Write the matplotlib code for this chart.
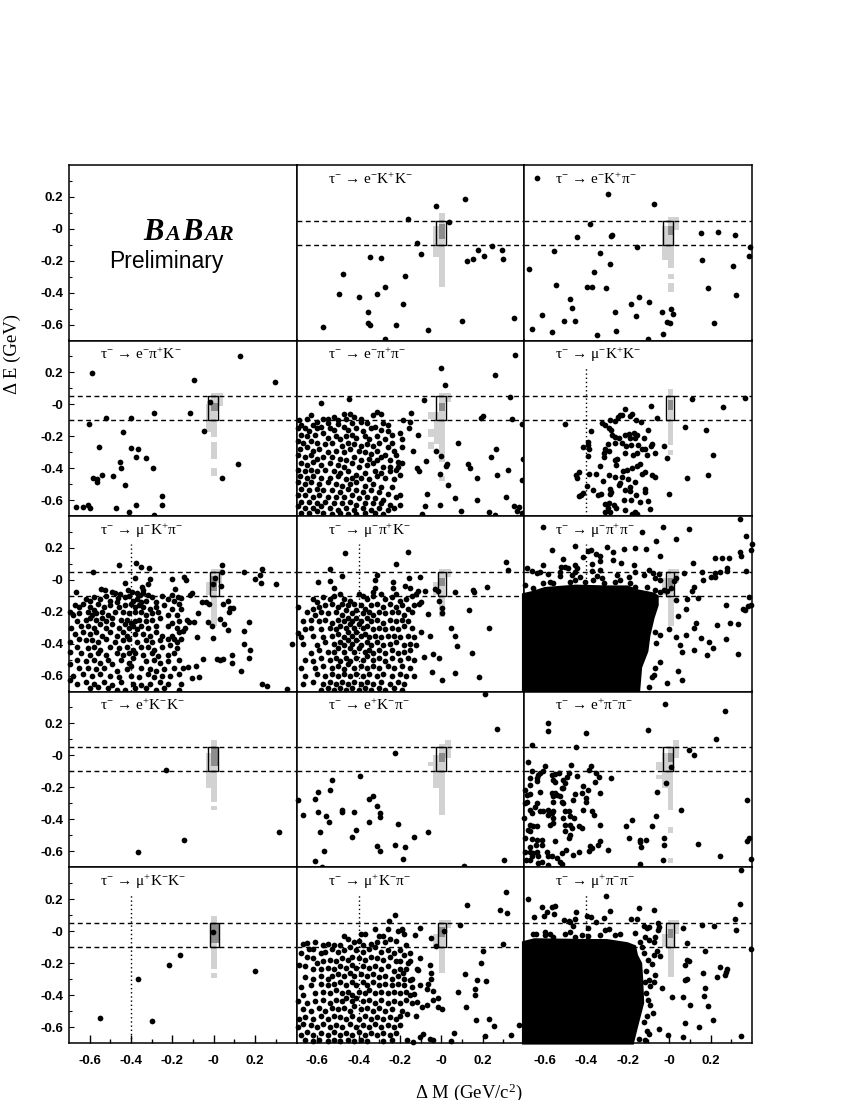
import matplotlib
matplotlib.use("Agg")
import matplotlib.pyplot as plt

plt.rcParams['mathtext.fontset'] = 'custom'
plt.rcParams['mathtext.rm'] = 'Liberation Serif'
plt.rcParams['mathtext.it'] = 'Liberation Serif:italic'
plt.rcParams['mathtext.bf'] = 'Liberation Serif:bold'

# Every point below is a (delta M, delta E) value.
# Inside the two saturated panels single points cannot be told apart, so the black
# mass is a filled outline (mupipi_blob, mupluspipi_blob).
eKK = [(.115,.19),(-.024,.143),(-.16,.06),(.037,.04),(-.116,-.09),(-.10,-.16),(-.347,-.177),(-.292,-.185),(.247,-.105),(.176,-.133),(.294,-.131),(.208,-.172),(.30,-.19),(.152,-.187),(.126,-.204),(-.473,-.285),(-.176,-.294),(-.273,-.367),(-.494,-.406),(-.313,-.408),(-.40,-.43),(-.184,-.469),(-.353,-.519),(-.353,-.59),(-.347,-.603),(-.571,-.615),(-.218,-.60),(.098,-.58),(.35,-.559),(-.065,-.636),(-.274,-.693)]
eKpi = [(-.635,.318),(-.297,.218),(-.074,.158),(-.382,.03),(.156,-.024),(.237,-.018),(.318,-.041),(-.445,-.051),(-.276,-.041),(-.279,-.047),(-.156,-.112),(-.553,-.137),(-.335,-.152),(.39,-.116),(.384,-.172),(.16,-.193),(.308,-.235),(-.284,-.223),(-.677,-.252),(-.36,-.273),(-.547,-.352),(-.398,-.363),(-.371,-.367),(-.302,-.371),(.189,-.373),(-.477,-.442),(.321,-.415),(-.144,-.43),(-.097,-.459),(-.182,-.473),(-.469,-.494),(-.615,-.54),(-.26,-.524),(-.035,-.524),(.008,-.50),(.019,-.532),(-.161,-.549),(-.506,-.58),(-.455,-.58),(-.01,-.586),(.002,-.59),(.215,-.59),(-.66,-.626),(-.565,-.647),(-.255,-.638),(-.348,-.668),(-.029,-.657),(-.103,-.689)]
epiK = [(.129,.304),(-.589,.195),(-.095,.153),(.294,.143),(-.016,.016),(-.113,-.053),(-.287,-.056),(-.521,-.085),(-.398,-.085),(-.605,-.122),(-.048,-.166),(-.44,-.173),(-.555,-.269),(-.402,-.273),(-.366,-.283),(-.376,-.329),(-.327,-.335),(-.453,-.363),(-.45,-.40),(-.294,-.40),(.116,-.377),(-.539,-.444),(-.582,-.463),(-.563,-.467),(-.566,-.488),(-.489,-.45),(.039,-.461),(-.429,-.503),(-.25,-.572),(-.248,-.632),(-.665,-.643),(-.631,-.643),(-.608,-.634),(-.598,-.651),(-.474,-.647),(-.377,-.634),(-.411,-.672),(-.287,-.691)]
epipi = [(-.002,.229),(.356,.306),(.26,.181),(.016,.124),(.332,.045),(-.082,.024),(-.447,.034),(-.582,.007),(-.147,-.053),(-.31,-.047),(.2,-.076),(.194,-.085),(.344,-.089),(.392,-.122),(-.184,-.10),(-.15,-.11),(-.158,-.147),(-.113,-.195),(.082,-.24),(-.024,-.29),(.265,-.281),(-.003,-.325),(.239,-.333),(.395,-.342),(-.137,-.294),(-.076,-.356),(.027,-.377),(.023,-.388),(.129,-.371),(.137,-.40),(-.119,-.40),(-.11,-.417),(.324,-.409),(-.008,-.436),(.268,-.444),(.171,-.459),(.392,-.475),(.032,-.505),(-.068,-.563),(.065,-.586),(.174,-.60),(.311,-.582),(-.008,-.628),(-.079,-.64),(.095,-.67),(-.092,-.687),(.229,-.678),(.26,-.695),(.35,-.64),(.377,-.645),(.368,-.668),(.389,-.68),
(-.69,-.1),(-.68,-.13),(-.65,-.09),(-.63,-.07),(-.6,-.11),(-.57,-.09),(-.55,-.09),(-.52,-.08),(-.5,-.1),(-.47,-.06),(-.44,-.06),(-.42,-.08),(-.39,-.09),(-.39,-.11),(-.36,-.12),(-.33,-.07),(-.29,-.06),(-.28,-.12),(-.26,-.13),(-.46,-.09),(-.43,-.12),(-.5,-.125),(-.55,-.12),(-.62,-.13),(-.695,-.15),(-.66,-.15),(-.64,-.17),(-.6,-.15),(-.58,-.14),(-.54,-.15),(-.52,-.16),(-.47,-.14),(-.45,-.16),(-.41,-.15),(-.38,-.17),(-.34,-.15),(-.32,-.14),(-.29,-.16),(-.26,-.17),(-.24,-.19),(-.2,-.18),(-.19,-.22),(-.68,-.19),(-.65,-.2),(-.61,-.19),(-.57,-.18),(-.55,-.21),(-.51,-.2),(-.49,-.22),(-.46,-.2),(-.43,-.19),(-.41,-.21),(-.37,-.2),(-.35,-.22),(-.31,-.2),(-.27,-.22),(-.24,-.24),(-.695,-.23),(-.67,-.24),(-.63,-.23),(-.6,-.24),(-.56,-.25),(-.53,-.24),(-.48,-.26),(-.45,-.24),(-.42,-.25),(-.39,-.26),(-.36,-.25),(-.33,-.26),(-.3,-.24),(-.26,-.27),(-.23,-.29),(-.19,-.27),(-.685,-.28),(-.65,-.27),(-.62,-.29),(-.59,-.28),(-.55,-.3),(-.51,-.29),(-.47,-.3),(-.44,-.28),(-.4,-.29),(-.37,-.3),(-.34,-.31),(-.31,-.29),(-.27,-.32),(-.22,-.32),(-.695,-.32),(-.66,-.33),(-.63,-.32),(-.6,-.34),(-.57,-.33),(-.53,-.33),(-.49,-.34),(-.46,-.35),(-.42,-.33),(-.39,-.35),(-.35,-.34),(-.31,-.35),(-.29,-.33),(-.25,-.35),(-.21,-.36),(-.68,-.37),(-.65,-.38),(-.62,-.36),(-.58,-.38),(-.54,-.37),(-.5,-.38),(-.47,-.39),(-.43,-.37),(-.4,-.39),(-.36,-.38),(-.33,-.37),(-.28,-.39),(-.25,-.39),(-.21,-.39),(-.19,-.37),(-.695,-.41),(-.66,-.42),(-.63,-.41),(-.6,-.42),(-.56,-.41),(-.52,-.42),(-.49,-.43),(-.45,-.42),(-.41,-.44),(-.37,-.43),(-.32,-.42),(-.29,-.43),(-.25,-.42),(-.22,-.41),(-.2,-.44),(-.685,-.45),(-.65,-.46),(-.62,-.45),(-.58,-.46),(-.54,-.46),(-.5,-.45),(-.46,-.47),(-.43,-.46),(-.39,-.46),(-.35,-.47),(-.31,-.45),(-.27,-.46),(-.23,-.47),(-.695,-.49),(-.66,-.5),(-.63,-.49),(-.59,-.5),(-.55,-.49),(-.51,-.5),(-.48,-.51),(-.44,-.5),(-.41,-.49),(-.37,-.51),(-.33,-.5),(-.29,-.52),(-.24,-.52),(-.68,-.53),(-.64,-.54),(-.6,-.53),(-.57,-.54),(-.53,-.54),(-.49,-.55),(-.45,-.53),(-.41,-.54),(-.38,-.55),(-.34,-.54),(-.3,-.55),(-.26,-.56),(-.2,-.57),(-.22,-.58),(-.695,-.57),(-.66,-.57),(-.62,-.58),(-.59,-.57),(-.55,-.58),(-.51,-.58),(-.47,-.58),(-.43,-.57),(-.4,-.59),(-.36,-.58),(-.32,-.59),(-.28,-.6),(-.68,-.61),(-.64,-.61),(-.6,-.62),(-.56,-.61),(-.52,-.62),(-.48,-.62),(-.44,-.61),(-.41,-.63),(-.37,-.62),(-.33,-.62),(-.29,-.62),(-.25,-.63),(-.2,-.63),(-.695,-.64),(-.66,-.65),(-.62,-.65),(-.58,-.64),(-.54,-.65),(-.5,-.66),(-.46,-.65),(-.42,-.66),(-.38,-.65),(-.34,-.66),(-.3,-.65),(-.26,-.66),(-.23,-.65),(-.68,-.68),(-.64,-.68),(-.6,-.67),(-.57,-.68),(-.53,-.69),(-.49,-.68),(-.45,-.69),(-.41,-.69),(-.37,-.68),(-.32,-.68),(-.28,-.69)]
muKK = [(-.085,-.012),(-.213,-.03),(-.179,-.062),(-.187,-.074),(-.239,-.068),(-.227,-.068),(-.248,-.078),(-.058,-.085),(-.16,-.10),(-.135,-.112),(-.284,-.10),(-.26,-.106),(-.324,-.12),(-.308,-.131),(-.292,-.147),(-.28,-.158),(-.5,-.122),(.077,-.145),(.179,-.162),(-.1,-.16),(-.377,-.17),(-.276,-.193),(-.26,-.204),(-.24,-.208),(-.211,-.193),(-.195,-.183),(-.171,-.179),(-.155,-.193),(-.187,-.21),(-.163,-.214),(-.12,-.208),(-.389,-.235),(-.392,-.256),(-.384,-.283),(-.413,-.27),(-.297,-.25),(-.308,-.283),(-.316,-.304),(-.292,-.294),(-.313,-.33),(-.26,-.242),(-.227,-.242),(-.206,-.262),(-.184,-.256),(-.152,-.256),(-.131,-.283),(-.115,-.283),(-.082,-.246),(-.085,-.262),(-.026,-.262),(-.066,-.308),(-.214,-.308),(-.174,-.315),(-.155,-.308),(-.106,-.315),(-.252,-.34),(-.26,-.35),(-.392,-.325),(-.011,-.338),(.211,-.315),(-.256,-.381),(-.332,-.388),(-.139,-.375),(-.155,-.388),(-.179,-.398),(-.203,-.413),(-.224,-.42),(-.115,-.423),(-.131,-.434),(-.082,-.44),(-.069,-.455),(-.435,-.425),(-.45,-.444),(-.445,-.459),(-.385,-.438),(-.353,-.438),(-.292,-.444),(-.263,-.455),(-.227,-.455),(-.2,-.471),(-.163,-.486),(-.235,-.492),(-.243,-.507),(-.321,-.48),(.189,-.44),(.085,-.461),(-.395,-.513),(-.368,-.534),(-.413,-.553),(-.424,-.57),(-.434,-.576),(-.329,-.559),(-.344,-.57),(-.284,-.528),(-.279,-.549),(-.284,-.565),(-.214,-.534),(-.19,-.517),(-.187,-.545),(-.158,-.57),(-.115,-.528),(-.115,-.549),(0,-.559),(-.219,-.6),(-.184,-.597),(-.142,-.611),(-.103,-.605),(-.308,-.622),(-.292,-.618),(-.268,-.632),(-.255,-.647),(-.297,-.647),(-.308,-.674),(-.284,-.674),(-.214,-.664),(-.163,-.674),(-.09,-.659),(-.179,-.685),(-.155,-.689),(.111,.036),(.366,.04),(.258,-.018)]
muKpi = [(-.456,.091),(-.377,.103),(-.352,.082),(-.311,.076),(-.584,.051),(-.382,.009),(-.2,.005),(-.142,.018),(-.134,-.001),(-.429,-.022),(-.308,.005),(-.316,-.028),(-.348,-.043),(-.34,-.064),(-.187,-.06),(-.103,-.081),(.04,.093),(.042,.047),(.006,.012),(-.002,-.028),(.034,-.037),(.148,.051),(.234,.068),(.224,.03),(.2,.003),(.226,-.022),(.303,-.028),(-.668,-.074),(-.547,-.058),(-.526,-.064),(-.494,-.074),(-.477,-.085),(-.453,-.091),(-.461,-.112),(-.413,-.064),(-.397,-.079),(-.373,-.085),(-.356,-.095),(-.34,-.085),(-.316,-.095),(-.203,-.095),(-.171,-.106),(-.16,-.116),(-.115,-.095),(-.058,-.137),(-.039,-.141),(-.023,-.154),(.068,-.133),(.047,-.154),(.079,-.179),(.095,-.179),(.076,-.204),(-.074,-.21),(-.131,-.25),(-.098,-.262),(-.118,-.266),(-.139,-.304),(-.029,-.266),(-.01,-.289),(.032,-.245),(.05,-.277),(.069,-.312),(.168,-.262),(.144,-.321),(-.081,-.356),(-.002,-.367),(.148,-.402),(.176,-.438),(.376,-.402),(.09,-.469),(.087,-.524),(-.05,-.498),(-.123,-.549),(-.087,-.538),(.014,-.498),(.031,-.5),(.047,-.498),(.168,-.492),(.131,-.574),(-.105,-.613),(-.071,-.611),(.232,-.656),(.255,-.665),(.355,-.682),
(-.62,-.12),(-.6,-.13),(-.58,-.11),(-.55,-.12),(-.52,-.1),(-.5,-.13),(-.47,-.14),(-.43,-.11),(-.41,-.1),(-.39,-.13),(-.37,-.12),(-.35,-.14),(-.33,-.13),(-.3,-.11),(-.28,-.14),(-.25,-.1),(-.22,-.12),(-.19,-.13),(-.17,-.15),(-.695,-.2),(-.67,-.16),(-.65,-.17),(-.63,-.15),(-.6,-.17),(-.58,-.19),(-.56,-.15),(-.53,-.17),(-.5,-.16),(-.46,-.17),(-.43,-.16),(-.4,-.15),(-.38,-.17),(-.36,-.16),(-.34,-.17),(-.31,-.18),(-.28,-.17),(-.24,-.16),(-.2,-.18),(-.16,-.18),(-.68,-.22),(-.65,-.21),(-.61,-.2),(-.59,-.22),(-.57,-.21),(-.54,-.2),(-.51,-.22),(-.48,-.2),(-.44,-.2),(-.41,-.21),(-.38,-.2),(-.35,-.2),(-.33,-.22),(-.3,-.21),(-.27,-.2),(-.22,-.22),(-.18,-.22),(-.66,-.26),(-.62,-.25),(-.6,-.24),(-.57,-.25),(-.54,-.24),(-.52,-.26),(-.49,-.24),(-.45,-.25),(-.42,-.25),(-.4,-.27),(-.38,-.26),(-.36,-.25),(-.33,-.26),(-.3,-.25),(-.26,-.24),(-.2,-.27),(-.17,-.26),(-.69,-.3),(-.64,-.29),(-.61,-.29),(-.58,-.3),(-.55,-.28),(-.52,-.3),(-.49,-.28),(-.46,-.3),(-.43,-.28),(-.41,-.3),(-.39,-.29),(-.37,-.31),(-.35,-.29),(-.32,-.3),(-.28,-.29),(-.22,-.29),(-.18,-.3),(-.15,-.32),(-.67,-.34),(-.63,-.33),(-.6,-.34),(-.57,-.33),(-.54,-.35),(-.5,-.33),(-.47,-.35),(-.44,-.33),(-.42,-.35),(-.38,-.34),(-.34,-.34),(-.31,-.35),(-.28,-.33),(-.25,-.35),(-.2,-.35),(-.17,-.33),(-.19,-.37),(-.695,-.39),(-.65,-.37),(-.62,-.38),(-.59,-.38),(-.56,-.39),(-.52,-.37),(-.48,-.39),(-.44,-.38),(-.41,-.37),(-.37,-.39),(-.33,-.38),(-.3,-.39),(-.26,-.38),(-.22,-.37),(-.18,-.39),(-.16,-.37),(-.66,-.42),(-.61,-.43),(-.58,-.42),(-.55,-.44),(-.5,-.42),(-.46,-.43),(-.42,-.42),(-.39,-.44),(-.35,-.42),(-.32,-.42),(-.29,-.44),(-.25,-.42),(-.21,-.41),(-.18,-.43),(-.695,-.45),(-.64,-.46),(-.6,-.47),(-.56,-.46),(-.52,-.47),(-.47,-.46),(-.44,-.47),(-.41,-.46),(-.38,-.46),(-.34,-.47),(-.3,-.46),(-.27,-.48),(-.22,-.47),(-.19,-.46),(-.66,-.5),(-.62,-.51),(-.58,-.5),(-.55,-.52),(-.51,-.5),(-.49,-.53),(-.45,-.5),(-.41,-.52),(-.39,-.49),(-.33,-.51),(-.29,-.5),(-.26,-.52),(-.22,-.51),(-.17,-.5),(-.695,-.53),(-.65,-.55),(-.61,-.55),(-.57,-.56),(-.53,-.55),(-.47,-.57),(-.42,-.56),(-.4,-.54),(-.35,-.55),(-.31,-.56),(-.28,-.57),(-.24,-.56),(-.19,-.55),(-.15,-.55),(-.68,-.6),(-.63,-.59),(-.59,-.6),(-.55,-.59),(-.5,-.6),(-.46,-.61),(-.4,-.6),(-.36,-.61),(-.32,-.59),(-.29,-.61),(-.25,-.6),(-.21,-.6),(-.17,-.59),(-.695,-.63),(-.66,-.65),(-.62,-.64),(-.58,-.65),(-.53,-.64),(-.49,-.66),(-.45,-.64),(-.39,-.65),(-.35,-.66),(-.31,-.65),(-.26,-.64),(-.22,-.65),(-.16,-.65),(-.6,-.68),(-.56,-.67),(-.51,-.68),(-.47,-.69),(-.43,-.69),(-.38,-.68),(-.33,-.68),(-.28,-.69),(-.24,-.68),(-.17,-.69)]
mupiK = [(-.466,.17),(-.161,.176),(-.221,.099),(.311,.11),(.321,.062),(-.54,.068),(-.482,.026),(-.595,-.012),(-.539,-.007),(-.519,-.049),(-.313,.03),(-.321,-.001),(-.321,-.049),(-.329,-.074),(-.232,-.012),(-.232,-.049),(-.156,.013),(-.176,-.037),(-.152,-.053),(-.103,.016),(-.111,-.07),(-.079,-.07),(-.031,-.058),(-.015,-.07),(.068,-.076),(.155,-.064),(.16,-.074),(.219,-.045),(-.01,-.133),(.002,-.175),(.002,-.206),(-.063,-.214),(.135,-.191),(.048,-.304),(.065,-.354),(.077,-.413),(.231,-.304),(.15,-.461),(-.039,-.467),(-.013,-.492),(-.055,-.35),(-.098,-.325),(-.084,-.482),(-.044,-.58),(.002,-.63),(.066,-.586),(.182,-.609),(-.692,-.168),(-.695,-.335),
(-.62,-.12),(-.6,-.14),(-.57,-.11),(-.54,-.12),(-.52,-.1),(-.49,-.09),(-.47,-.12),(-.44,-.13),(-.4,-.09),(-.38,-.1),(-.36,-.12),(-.33,-.1),(-.29,-.09),(-.27,-.12),(-.24,-.11),(-.22,-.09),(-.2,-.13),(-.17,-.12),(-.14,-.1),(-.12,-.09),(-.62,-.18),(-.59,-.17),(-.56,-.16),(-.53,-.15),(-.5,-.17),(-.48,-.15),(-.45,-.16),(-.42,-.15),(-.39,-.16),(-.37,-.18),(-.34,-.16),(-.31,-.15),(-.28,-.17),(-.25,-.15),(-.22,-.17),(-.19,-.16),(-.16,-.18),(-.13,-.16),(-.11,-.15),(-.1,-.14),(-.65,-.2),(-.61,-.22),(-.58,-.2),(-.55,-.21),(-.51,-.2),(-.48,-.22),(-.46,-.19),(-.43,-.21),(-.41,-.19),(-.38,-.21),(-.35,-.2),(-.33,-.22),(-.3,-.2),(-.27,-.21),(-.24,-.2),(-.21,-.2),(-.18,-.22),(-.14,-.2),(-.67,-.26),(-.63,-.25),(-.59,-.26),(-.56,-.25),(-.53,-.27),(-.5,-.25),(-.47,-.26),(-.45,-.24),(-.43,-.26),(-.41,-.24),(-.39,-.26),(-.36,-.24),(-.34,-.26),(-.31,-.25),(-.28,-.27),(-.25,-.25),(-.22,-.26),(-.19,-.25),(-.16,-.26),(-.66,-.31),(-.63,-.3),(-.58,-.31),(-.54,-.3),(-.51,-.31),(-.49,-.29),(-.46,-.3),(-.44,-.28),(-.42,-.3),(-.4,-.28),(-.38,-.3),(-.36,-.29),(-.33,-.31),(-.3,-.3),(-.27,-.31),(-.24,-.3),(-.21,-.31),(-.18,-.29),(-.14,-.3),(-.68,-.36),(-.62,-.35),(-.57,-.36),(-.53,-.35),(-.5,-.34),(-.47,-.36),(-.45,-.33),(-.43,-.35),(-.41,-.33),(-.39,-.35),(-.37,-.34),(-.35,-.36),(-.32,-.35),(-.29,-.36),(-.26,-.35),(-.23,-.35),(-.2,-.36),(-.16,-.35),(-.13,-.36),(-.67,-.4),(-.6,-.41),(-.56,-.39),(-.52,-.4),(-.49,-.39),(-.47,-.41),(-.45,-.38),(-.43,-.4),(-.41,-.38),(-.39,-.41),(-.36,-.39),(-.34,-.41),(-.31,-.39),(-.28,-.41),(-.25,-.4),(-.22,-.39),(-.18,-.41),(-.15,-.4),(-.12,-.41),(-.63,-.46),(-.59,-.44),(-.55,-.45),(-.52,-.45),(-.5,-.43),(-.47,-.45),(-.44,-.43),(-.42,-.45),(-.4,-.43),(-.37,-.45),(-.35,-.44),(-.33,-.46),(-.3,-.44),(-.27,-.46),(-.24,-.44),(-.21,-.46),(-.18,-.45),(-.15,-.44),(-.66,-.5),(-.62,-.51),(-.58,-.49),(-.54,-.5),(-.51,-.49),(-.49,-.51),(-.46,-.49),(-.44,-.51),(-.41,-.49),(-.38,-.5),(-.36,-.48),(-.33,-.5),(-.3,-.49),(-.27,-.51),(-.24,-.49),(-.2,-.5),(-.16,-.49),(-.13,-.5),(-.68,-.55),(-.61,-.55),(-.57,-.54),(-.53,-.55),(-.5,-.54),(-.47,-.56),(-.45,-.53),(-.42,-.55),(-.39,-.54),(-.36,-.55),(-.33,-.54),(-.3,-.55),(-.26,-.54),(-.23,-.55),(-.19,-.54),(-.15,-.55),(-.66,-.6),(-.6,-.59),(-.56,-.6),(-.53,-.59),(-.5,-.6),(-.47,-.59),(-.44,-.6),(-.41,-.59),(-.38,-.6),(-.35,-.59),(-.31,-.6),(-.28,-.59),(-.24,-.6),(-.2,-.59),(-.17,-.6),(-.13,-.6),(-.67,-.65),(-.62,-.64),(-.57,-.65),(-.54,-.64),(-.51,-.65),(-.48,-.64),(-.45,-.65),(-.42,-.64),(-.39,-.65),(-.36,-.64),(-.33,-.65),(-.29,-.64),(-.25,-.65),(-.21,-.64),(-.18,-.65),(-.58,-.69),(-.55,-.68),(-.52,-.69),(-.49,-.68),(-.46,-.69),(-.43,-.68),(-.4,-.69),(-.37,-.68),(-.34,-.69),(-.3,-.68),(-.27,-.69),(-.23,-.68),(-.19,-.69)]
mupipi = [(-.61,.329),(-.029,.331),(.097,.318),(.342,.379),(.369,.277),(.399,.222),(.394,.187),(-.129,.3),(.032,.258),(-.065,.241),(-.563,.187),(-.453,.212),(-.389,.183),(-.377,.189),(-.3,.208),(-.273,.176),(-.218,.191),(-.163,.199),(-.111,.195),(-.416,.145),(-.352,.16),(-.332,.151),(-.511,.128),(-.332,.118),(-.271,.126),(-.231,.107),(-.043,.149),(-.171,.095),(.342,.172),(.348,.151),(.223,.139),(.256,.139),(.289,.135),(.113,.103),(-.61,.091),(-.523,.082),(-.502,.078),(-.486,.076),(-.453,.093),(-.445,.072),(-.373,.097),(-.687,.076),(-.663,.055),(-.639,.041),(-.623,.047),(-.526,.047),(-.526,.026),(-.582,.034),(-.469,.03),(-.453,.047),(-.429,.02),(-.373,.055),(-.332,.061),(-.348,.026),(-.324,.009),(-.252,.03),(-.192,.016),(-.163,.051),(-.098,.061),(-.123,.03),(-.079,.041),(-.05,.034),(-.066,.009),(-.042,-.001),(.074,.041),(.161,.051),(.165,-.001),(.2,.02),(.223,.041),(.223,.016),(.248,.051),(.281,.076),(.277,.055),(.369,.055),(.023,-.007),(.034,.009),(.011,-.049),(-.01,-.07),(.119,-.043),(.111,-.07),(.034,-.127),(.087,-.122),(.139,-.116),(.384,-.105),(.082,-.185),(.044,-.227),(.276,-.158),(.394,-.158),(.38,-.162),(.358,-.185),(.365,-.189),(.131,-.269),(.119,-.304),(.231,-.285),(.294,-.273),(.331,-.277),(0,-.308),(.035,-.356),(.082,-.344),(.155,-.363),(.192,-.392),(.213,-.43),(.118,-.44),(.181,-.469),(.055,-.409),(.061,-.452),(.276,-.371),(.331,-.463),(.042,-.572),(.061,-.626),(-.01,-.649),(-.098,-.674),(-.066,-.325),(-.045,-.346),(-.061,-.398),(-.045,-.513),(-.066,-.555),(-.074,-.597),(-.082,-.607),(-.695,-.033),(-.655,-.05),(-.606,-.022),(-.574,-.012),(-.558,-.022),(-.477,-.012),(-.453,-.001),(-.405,-.012),(-.365,-.001),(-.316,-.022),(-.26,-.012),(-.235,-.001),(-.187,-.022),(-.163,-.043),(-.106,-.043),(-.066,-.064),(-.042,-.074),(-.026,-.064)]
mupipi_blob = [(-.71,-.71),(-.71,-.085),(-.66,-.07),(-.6,-.045),(-.45,-.03),(-.3,-.035),(-.2,-.035),(-.15,-.06),(-.07,-.08),(-.05,-.1),(-.05,-.16),(-.07,-.24),(-.09,-.35),(-.1,-.45),(-.13,-.55),(-.14,-.705),(-.14,-.71)]
eplusKK = [(-.232,-.091),(-.142,-.53),(-.365,-.605),(.313,-.48)]
eplusKpi = [(.211,.385),(.269,.166),(-.223,.016),(-.394,-.129),(-.529,-.156),(-.537,-.216),(-.598,-.227),(-.692,-.277),(-.611,-.271),(-.348,-.271),(-.332,-.254),(-.311,-.319),(-.668,-.371),(-.594,-.358),(-.479,-.342),(-.479,-.356),(-.423,-.356),(-.558,-.381),(-.298,-.36),(-.298,-.386),(-.544,-.421),(-.35,-.421),(-.208,-.43),(-.587,-.48),(-.411,-.471),(-.065,-.478),(-.434,-.509),(-.132,-.511),(-.31,-.567),(-.224,-.565),(-.176,-.576),(-.569,-.597),(-.297,-.597),(-.184,-.649),(-.611,-.664),(-.579,-.697),(.111,-.695),(.303,-.657)]
eplusKpi_extra = [(-.176,-.583)]
epluspipi = [(-.019,.319),(.269,.277),(-.585,.202),(-.582,.151),(-.4,.141),(-.1,.158),(.224,.101),(-.661,.062),(-.448,.055),(.097,.034),(.118,.005),(-.679,-.043),(-.598,-.066),(-.471,-.058),(-.377,-.066),(-.385,-.091),(.01,-.074),(-.282,-.141),(-.013,-.175),(-.06,-.231),(-.331,-.237),(.377,-.279),(.056,-.342),(-.065,-.381),(-.179,-.404),(-.082,-.44),(-.21,-.446),(-.334,-.438),(-.192,-.521),(-.139,-.53),(-.139,-.542),(-.111,-.532),(-.137,-.574),(-.023,-.521),(-.023,-.565),(.14,-.557),(.377,-.536),(.387,-.521),(.245,-.632),(.396,-.649),(-.029,-.657),(-.139,-.68),(-.295,-.592),(-.332,-.54),(-.344,-.565),(-.381,-.571),(-.384,-.597),(-.373,-.582),(-.437,-.603),(-.466,-.624),
(-.663,-.097),(-.631,-.122),(-.623,-.108),(-.61,-.097),(-.566,-.122),(-.55,-.116),(-.529,-.112),(-.485,-.112),(-.494,-.137),(-.445,-.127),(-.352,-.112),(-.34,-.137),(-.671,-.143),(-.639,-.143),(-.671,-.185),(-.639,-.164),(-.55,-.17),(-.558,-.154),(-.51,-.154),(-.502,-.175),(-.51,-.206),(-.518,-.206),(-.356,-.17),(-.413,-.195),(-.389,-.216),(-.421,-.237),(-.453,-.244),(-.623,-.227),(-.695,-.216),(-.687,-.248),(-.671,-.241),(-.566,-.237),(-.55,-.237),(-.526,-.258),(-.558,-.258),(-.542,-.248),(-.687,-.29),(-.695,-.3),(-.4,-.269),(-.4,-.29),(-.466,-.279),(-.518,-.29),(-.51,-.3),(-.558,-.29),(-.639,-.3),(-.647,-.321),(-.671,-.342),(-.663,-.363),(-.623,-.352),(-.606,-.352),(-.582,-.342),(-.558,-.346),(-.582,-.373),(-.566,-.363),(-.558,-.394),(-.502,-.346),(-.485,-.352),(-.477,-.383),(-.51,-.394),(-.373,-.346),(-.361,-.373),(-.413,-.342),(-.461,-.394),(-.698,-.394),(-.558,-.425),(-.574,-.436),(-.502,-.436),(-.477,-.436),(-.469,-.457),(-.671,-.436),(-.679,-.467),(-.655,-.446),(-.635,-.442),(-.671,-.477),(-.502,-.477),(-.477,-.498),(-.485,-.519),(-.437,-.446),(-.421,-.457),(-.695,-.519),(-.663,-.526),(-.615,-.53),(-.639,-.53),(-.642,-.565),(-.611,-.561),(-.55,-.54),(-.671,-.572),(-.695,-.609),(-.671,-.609),(-.655,-.613),(-.639,-.607),(-.631,-.628),(-.59,-.609),(-.582,-.63),(-.566,-.634),(-.542,-.645),(-.518,-.613),(-.497,-.592),(-.671,-.655),(-.692,-.655),(-.631,-.676),(-.615,-.666),(-.582,-.686),(-.526,-.666),(-.518,-.68),(-.663,-.634)]
muplusKK = [(-.55,-.545),(-.365,-.3),(-.3,-.56),(-.215,-.21),(-.165,-.15),(-.003,-.007),(.2,-.25)]
muplusKpi = [(.315,.241),(.126,.164),(.284,.133),(.316,.112),(-.224,.099),(-.252,.062),(.09,.036),(.013,-.003),(-.052,-.045),(-.024,-.091),(-.129,-.022),(-.102,.016),(.298,-.083),(.2,-.127),(.19,-.2),(.113,-.267),(.173,-.308),(.218,-.312),(.165,-.363),(.165,-.398),(.082,-.379),(.121,-.473),(.169,-.557),(.231,-.547),(.255,-.592),(.377,-.588),(.339,-.647),(.213,-.657),(.06,-.638),(.045,-.69),(-.015,-.417),(-.039,-.43),(-.063,-.329),(-.071,-.36),(-.039,-.377),(-.015,-.476),(.002,-.486),(-.071,-.465),(-.095,-.476),(-.119,-.444),(-.132,-.392),(-.103,-.34),(-.055,-.214),(-.052,-.26),(-.052,-.298),(-.111,-.246),(-.115,-.235),(-.152,-.308),(-.152,-.187),(-.184,-.26),(-.103,-.166),(-.087,-.642),(-.103,-.664),(-.168,-.684),(-.135,-.695),(-.055,-.674),(-.042,-.684),(-.123,-.532),(-.168,-.517),
(-.67,-.08),(-.65,-.075),(-.61,-.07),(-.64,-.11),(-.62,-.115),(-.57,-.09),(-.55,-.08),(-.52,-.09),(-.49,-.09),(-.47,-.03),(-.45,-.05),(-.42,-.07),(-.39,-.02),(-.37,-.02),(-.4,-.06),(-.38,-.09),(-.34,-.08),(-.31,-.07),(-.3,-.03),(-.28,-.03),(-.27,-.07),(-.25,-.05),(-.22,-.06),(-.21,0),(-.19,.01),(-.18,-.02),(-.17,-.09),(-.19,.005),(-.32,.01),(-.26,.01),(-.68,-.14),(-.65,-.16),(-.62,-.17),(-.58,-.14),(-.56,-.13),(-.53,-.11),(-.5,-.13),(-.47,-.12),(-.44,-.1),(-.41,-.12),(-.38,-.13),(-.35,-.11),(-.32,-.1),(-.29,-.13),(-.26,-.12),(-.23,-.14),(-.2,-.12),(-.18,-.15),(-.15,-.14),(-.69,-.21),(-.66,-.22),(-.6,-.2),(-.57,-.19),(-.54,-.18),(-.51,-.19),(-.48,-.17),(-.45,-.18),(-.43,-.16),(-.4,-.17),(-.37,-.18),(-.34,-.16),(-.31,-.17),(-.28,-.18),(-.25,-.16),(-.22,-.19),(-.2,-.19),(-.16,-.2),(-.62,-.24),(-.58,-.24),(-.55,-.23),(-.52,-.24),(-.49,-.22),(-.46,-.23),(-.43,-.21),(-.41,-.23),(-.38,-.22),(-.35,-.23),(-.32,-.22),(-.29,-.24),(-.26,-.22),(-.23,-.25),(-.2,-.24),(-.17,-.24),(-.66,-.29),(-.62,-.3),(-.58,-.28),(-.55,-.3),(-.53,-.28),(-.5,-.27),(-.47,-.28),(-.44,-.26),(-.42,-.28),(-.39,-.27),(-.36,-.28),(-.33,-.27),(-.3,-.29),(-.27,-.28),(-.24,-.3),(-.21,-.28),(-.18,-.3),(-.14,-.3),(-.68,-.35),(-.63,-.34),(-.58,-.33),(-.55,-.34),(-.52,-.33),(-.49,-.32),(-.46,-.34),(-.43,-.32),(-.41,-.34),(-.38,-.32),(-.36,-.34),(-.33,-.32),(-.3,-.34),(-.27,-.33),(-.24,-.34),(-.21,-.33),(-.18,-.34),(-.14,-.35),(-.67,-.4),(-.61,-.39),(-.57,-.38),(-.54,-.39),(-.51,-.37),(-.48,-.39),(-.45,-.38),(-.43,-.4),(-.4,-.38),(-.37,-.39),(-.35,-.37),(-.32,-.39),(-.29,-.38),(-.26,-.39),(-.23,-.38),(-.2,-.39),(-.17,-.38),(-.15,-.4),(-.695,-.44),(-.65,-.45),(-.61,-.44),(-.57,-.43),(-.54,-.45),(-.51,-.43),(-.48,-.44),(-.46,-.42),(-.43,-.44),(-.41,-.42),(-.38,-.44),(-.35,-.43),(-.32,-.45),(-.29,-.43),(-.26,-.45),(-.23,-.44),(-.2,-.45),(-.17,-.43),(-.14,-.45),(-.67,-.49),(-.63,-.5),(-.59,-.48),(-.56,-.5),(-.53,-.48),(-.5,-.49),(-.47,-.48),(-.44,-.5),(-.42,-.47),(-.39,-.49),(-.36,-.48),(-.33,-.5),(-.3,-.48),(-.27,-.5),(-.24,-.49),(-.19,-.5),(-.69,-.55),(-.66,-.54),(-.62,-.55),(-.58,-.53),(-.55,-.55),(-.52,-.53),(-.49,-.54),(-.46,-.55),(-.43,-.53),(-.4,-.55),(-.37,-.53),(-.34,-.55),(-.31,-.54),(-.28,-.55),(-.25,-.54),(-.22,-.55),(-.2,-.53),(-.695,-.6),(-.67,-.58),(-.63,-.59),(-.6,-.6),(-.57,-.58),(-.54,-.6),(-.51,-.59),(-.48,-.6),(-.44,-.58),(-.41,-.6),(-.38,-.59),(-.35,-.6),(-.32,-.58),(-.29,-.6),(-.26,-.59),(-.23,-.6),(-.2,-.59),(-.68,-.65),(-.65,-.63),(-.62,-.65),(-.58,-.64),(-.55,-.65),(-.52,-.63),(-.49,-.65),(-.46,-.64),(-.43,-.65),(-.4,-.63),(-.37,-.65),(-.34,-.64),(-.31,-.65),(-.28,-.64),(-.25,-.65),(-.22,-.64),(-.66,-.68),(-.62,-.69),(-.59,-.68),(-.55,-.69),(-.52,-.68),(-.49,-.69),(-.45,-.68),(-.42,-.69),(-.39,-.68),(-.36,-.69),(-.28,-.69),(-.24,-.68)]
mupluspipi = [(.349,.381),(-.682,.197),(.34,.168),(-.306,.216),(-.611,.153),(-.563,.153),(-.55,.158),(-.603,.093),(-.59,.116),(-.553,.105),(-.653,.089),(-.45,.116),(-.453,.074),(-.505,.068),(-.481,.061),(-.465,.032),(-.477,.057),(-.395,.095),(-.377,.089),(-.389,.016),(-.352,.057),(-.316,.082),(-.287,.126),(-.145,.141),(-.182,.078),(-.155,.074),(-.073,.133),(-.123,.032),(-.106,.02),(-.098,.026),(-.055,.053),(-.055,.005),(-.05,.026),(.318,.078),(.324,.005),(.066,.02),(.161,.036),(.216,.032),(.087,-.074),(.171,-.127),(.395,-.11),(-.656,-.016),(-.64,-.016),(-.6,-.005),(-.6,-.026),(-.575,-.016),(-.558,-.037),(-.502,-.016),(-.477,-.005),(-.453,-.037),(-.42,-.022),(-.389,-.031),(-.332,-.026),(-.308,.005),(-.292,.012),(-.263,-.026),(-.235,-.016),(-.163,-.012),(-.115,-.037),(-.098,-.058),(-.066,-.037),(-.074,-.068),(-.058,-.127),(-.074,-.148),(-.045,-.156),(-.082,-.204),(-.066,-.277),(.087,-.183),(.095,-.189),(.076,-.21),(.166,-.262),(.244,-.225),(.229,-.287),(.281,-.235),(.273,-.256),(.268,-.277),(.087,-.302),(.079,-.308),(-.074,-.319),(-.098,-.308),(-.115,-.319),(-.09,-.344),(-.034,-.356),(.171,-.354),(.169,-.406),(.013,-.411),(.066,-.411),(-.103,-.43),(-.09,-.461),(-.077,-.513),(.103,-.465),(.19,-.471),(.214,-.557),(.079,-.572),(.144,-.599),(-.05,-.613),(-.006,-.653),(.066,-.664),(.345,-.657),(-.106,-.622),(-.098,-.643),(-.147,-.674),(-.115,-.684),(-.11,-.25),(-.1,-.18),(-.12,-.14),(-.13,-.1),(-.14,-.07),(-.11,-.39),(-.105,-.53),(-.12,-.57)]
mupluspipi_blob = [(-.71,-.71),(-.71,-.065),(-.65,-.045),(-.4,-.05),(-.3,-.05),(-.2,-.07),(-.16,-.09),(-.15,-.15),(-.13,-.2),(-.125,-.3),(-.12,-.45),(-.15,-.6),(-.17,-.705),(-.17,-.71)]

# Shaded signal-efficiency cells: (dm low, dm high, dE low, dE high)
LIGHT = {
 'eKK': [(-.011,.018,-.367,.101),(-.04,-.011,-.175,.019)],
 'eKpi': [(-.006,.023,-.248,.076),(-.006,.023,-.312,-.285),(-.006,.023,-.394,-.342),(-.035,-.006,-.196,.019),(.023,.048,-.007,.072)],
 'epiK': [(-.013,.016,-.204,.068),(-.013,.016,-.34,-.235),(-.013,.016,-.45,-.402),(-.039,-.013,-.172,.005),(.016,.045,-.012,.068)],
 'epipi': [(-.011,.018,-.36,.068),(-.011,.018,-.48,-.45),(-.037,-.011,-.246,-.047),(-.065,-.037,-.089,-.047),(-.065,-.037,-.204,-.152),(-.065,-.037,-.283,-.235),(.018,.045,.016,.068)],
 'muKK': [(-.006,.019,-.256,.099),(-.006,.019,-.319,-.287)],
 'muKpi': [(-.013,.016,-.287,.068),(-.039,-.013,-.095,-.012),(.016,.042,-.022,.068)],
 'mupiK': [(-.011,.018,-.231,.068),(-.038,-.011,-.095,-.012),(.018,.045,.02,.068)],
 'mupipi': [(-.006,.023,-.29,.068),(-.035,-.006,-.095,.009),(.023,.048,-.022,.068)],
 'eplusKK': [(-.013,.016,-.29,.097),(-.013,.016,-.342,-.317),(-.039,-.013,-.206,.013)],
 'eplusKpi': [(-.011,.018,-.373,.072),(-.038,-.011,-.206,.003),(-.065,-.038,-.07,-.041),(.018,.045,-.018,.097)],
 'epluspipi': [(-.006,.019,-.342,.051),(-.006,.019,-.484,-.452),(-.006,.019,-.672,-.645),(-.035,-.006,-.206,.013),(-.063,-.035,-.091,-.039),(-.063,-.035,-.15,-.122),(.019,.048,-.018,.097)],
 'muplusKK': [(-.013,.016,-.235,.095),(-.013,.016,-.294,-.26)],
 'muplusKpi': [(-.011,.018,-.262,.068),(-.038,-.011,-.106,-.016),(.018,.045,.02,.068)],
 'mupluspipi': [(-.006,.023,-.287,.068),(-.035,-.006,-.1,-.016),(.023,.048,-.016,.068)],
}
DARK = {
 'eKK': (-.011,.018,-.065,.033),'eKpi': (-.006,.019,-.039,.017),'epiK': (-.013,.023,-.041,.009),
 'epipi': (-.011,.018,-.041,.011),'muKK': (-.006,.019,-.037,.026),'muKpi': (-.013,.016,-.07,.023),
 'mupiK': (-.011,.018,-.037,.009),'mupipi': (-.006,.019,-.043,.013),'eplusKK': (-.013,.023,-.07,.045),
 'eplusKpi': (-.011,.018,-.039,.013),'epluspipi': (-.006,.019,-.039,.013),'muplusKK': (-.013,.023,-.072,.047),
 'muplusKpi': (-.011,.018,-.037,.025),'mupluspipi': (-.006,.019,-.043,.012),
}
BOX_E = (-.027,.021)
BOX_MU = (-.017,.023)
BAND = (-.1,.05)
GRID = [
 [(None,None,None),('eKK',eKK,r"e$^{-}$K$^{+}$K$^{-}$"),('eKpi',eKpi,r"e$^{-}$K$^{+}$π$^{-}$")],
 [('epiK',epiK,r"e$^{-}$π$^{+}$K$^{-}$"),('epipi',epipi,r"e$^{-}$π$^{+}$π$^{-}$"),('muKK',muKK,r"μ$^{-}$K$^{+}$K$^{-}$")],
 [('muKpi',muKpi,r"μ$^{-}$K$^{+}$π$^{-}$"),('mupiK',mupiK,r"μ$^{-}$π$^{+}$K$^{-}$"),('mupipi',mupipi,r"μ$^{-}$π$^{+}$π$^{-}$")],
 [('eplusKK',eplusKK,r"e$^{+}$K$^{-}$K$^{-}$"),('eplusKpi',eplusKpi,r"e$^{+}$K$^{-}$π$^{-}$"),('epluspipi',epluspipi,r"e$^{+}$π$^{-}$π$^{-}$")],
 [('muplusKK',muplusKK,r"μ$^{+}$K$^{-}$K$^{-}$"),('muplusKpi',muplusKpi,r"μ$^{+}$K$^{-}$π$^{-}$"),('mupluspipi',mupluspipi,r"μ$^{+}$π$^{-}$π$^{-}$")],
]
BLOBS = {'mupipi': mupipi_blob, 'mupluspipi': mupluspipi_blob}
DM_LIM = (-.7,.4); DE_LIM = (-.7,.4)
MAJOR = [-.6,-.4,-.2,0,.2]; MINOR = [-.5,-.3,-.1,.1,.3]
TICK_LABELS = ['-0.6','-0.4','-0.2','-0','0.2']

W, H = 850, 1100
fig = plt.figure(figsize=(8.5,11), dpi=100)
X_EDGES = [69,296.5,524,752]
Y_EDGES = [165,340.5,516,691.5,867,1043]
SANS = 'Liberation Sans'; SERIF = 'Liberation Serif'

for r,row in enumerate(GRID):
    for c,(key,pts,label) in enumerate(row):
        ax = fig.add_axes([X_EDGES[c]/W, 1-Y_EDGES[r+1]/H, (X_EDGES[c+1]-X_EDGES[c])/W, (Y_EDGES[r+1]-Y_EDGES[r])/H])
        ax.set_xlim(*DM_LIM); ax.set_ylim(*DE_LIM)
        ax.set_xticks(MAJOR); ax.set_xticks(MINOR, minor=True)
        ax.set_yticks(MAJOR); ax.set_yticks(MINOR, minor=True)
        ax.tick_params(which='major', direction='in', length=5.5 if r==4 else 0, width=1, axis='x', pad=9)
        ax.tick_params(which='minor', direction='in', length=3 if r==4 else 0, width=1, axis='x')
        ax.tick_params(which='major', direction='in', length=3.5 if c==0 else 0, width=.8, axis='y', pad=4)
        ax.tick_params(which='minor', direction='in', length=2 if c==0 else 0, width=.8, axis='y')
        ax.set_xticklabels(TICK_LABELS if r==4 else [], fontfamily=SANS, fontweight='bold', fontsize=9.5)
        ax.set_yticklabels(TICK_LABELS if c==0 else [], fontfamily=SANS, fontweight='bold', fontsize=9.5)
        for s in ax.spines.values():
            s.set_linewidth(1.1); s.set_zorder(6)
        if key is None:
            continue
        for d0,d1,e0,e1 in LIGHT[key]:
            ax.bar(d0, e1-e0, width=d1-d0, bottom=e0, align='edge', color='#d2d2d2', lw=0, zorder=1)
        d0,d1,e0,e1 = DARK[key]
        ax.bar(d0, e1-e0, width=d1-d0, bottom=e0, align='edge', color='#8c8c8c', lw=0, zorder=2)
        box = BOX_MU if key.startswith('mu') else BOX_E
        ax.bar(box[0], BAND[1]-BAND[0], width=box[1]-box[0], bottom=BAND[0], align='edge', fill=False, edgecolor='black', lw=1, zorder=5)
        if key in BLOBS:
            bx,by = zip(*BLOBS[key])
            ax.fill(bx, by, color='black', lw=0, zorder=3, clip_on=False)
        if key.startswith('mu'):
            ax.plot([-.4,-.4],[DE_LIM[0],.225], color='black', lw=1, ls=(0,(1,2)), zorder=2)
        xs,ys = zip(*pts)
        ax.scatter(xs, ys, s=17, c='black', lw=0, zorder=3, clip_on=False)
        for y in BAND:
            ax.axhline(y, color='black', lw=1, ls=(0,(3.5,2.5)), zorder=4)
        ax.text(31/227.5, 1-18.5/175.5, "τ$^{-}$ → "+label, transform=ax.transAxes, family=SERIF, fontsize=11, va='baseline', ha='left', zorder=7)

def ftext(px, py, s, **kw):
    return fig.text(px/W, 1-py/H, s, **kw)

ftext(143,240,'B',family=SERIF,style='italic',weight='bold',fontsize=22,va='baseline')
ftext(165,240,'A',family=SERIF,style='italic',weight='bold',fontsize=16,va='baseline')
ftext(182,240,'B',family=SERIF,style='italic',weight='bold',fontsize=22,va='baseline')
ftext(204,240,'AR',family=SERIF,style='italic',weight='bold',fontsize=16,va='baseline')
ftext(109,268,'Preliminary',family=SANS,fontsize=16.5,va='baseline')
ftext(469,1098,r"Δ M (GeV/c$^{2}$)",family=SERIF,fontsize=13.5,ha='center',va='baseline')
ftext(21,354,"Δ E (GeV)",family=SERIF,fontsize=13.5,rotation=90,ha='right',va='center')

fig.savefig('out.png', dpi=100)
